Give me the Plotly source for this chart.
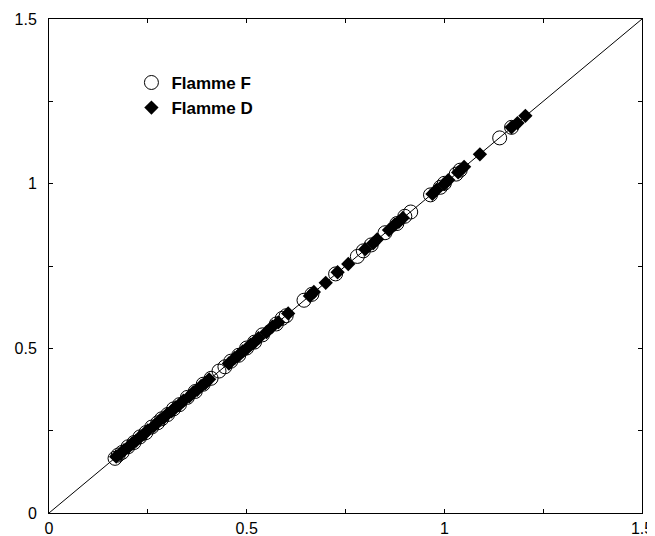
import plotly.graph_objects as go

# Flamme F (open circles)
f_x = [0.167, 0.175, 0.185, 0.200, 0.215, 0.230, 0.245, 0.260, 0.275, 0.285,
       0.300, 0.315, 0.330, 0.350, 0.370, 0.390, 0.410, 0.430, 0.445, 0.460,
       0.480, 0.500, 0.520, 0.540, 0.575, 0.590, 0.600, 0.645, 0.665, 0.725,
       0.780, 0.795, 0.815, 0.850, 0.880, 0.900, 0.915, 0.965, 0.990, 1.000,
       1.030, 1.040, 1.140, 1.170]
f_y = [0.166, 0.176, 0.184, 0.201, 0.214, 0.231, 0.244, 0.261, 0.274, 0.286,
       0.299, 0.316, 0.329, 0.351, 0.369, 0.391, 0.409, 0.431, 0.444, 0.461,
       0.479, 0.501, 0.519, 0.541, 0.574, 0.591, 0.599, 0.646, 0.664, 0.726,
       0.779, 0.796, 0.814, 0.851, 0.879, 0.901, 0.914, 0.966, 0.989, 1.001,
       1.029, 1.041, 1.139, 1.171]

# Flamme D (filled diamonds)
d_x = [0.170, 0.180, 0.190, 0.200, 0.210, 0.220, 0.230, 0.240, 0.250, 0.265,
       0.280, 0.290, 0.300, 0.310, 0.320, 0.330, 0.340, 0.355, 0.365, 0.375,
       0.385, 0.395, 0.405, 0.455, 0.470, 0.480, 0.490, 0.500, 0.510, 0.520,
       0.530, 0.550, 0.565, 0.580, 0.605, 0.660, 0.670, 0.700, 0.730, 0.757,
       0.800, 0.820, 0.830, 0.860, 0.875, 0.885, 0.895, 0.970, 0.980, 1.000,
       1.010, 1.035, 1.050, 1.090, 1.170, 1.185, 1.205]
d_y = [0.171, 0.179, 0.191, 0.199, 0.211, 0.219, 0.231, 0.239, 0.251, 0.264,
       0.281, 0.289, 0.301, 0.309, 0.321, 0.329, 0.341, 0.354, 0.366, 0.374,
       0.386, 0.394, 0.406, 0.454, 0.471, 0.479, 0.491, 0.499, 0.511, 0.519,
       0.531, 0.549, 0.566, 0.579, 0.606, 0.659, 0.671, 0.699, 0.731, 0.756,
       0.801, 0.819, 0.831, 0.859, 0.876, 0.884, 0.896, 0.969, 0.981, 0.999,
       1.011, 1.034, 1.051, 1.089, 1.171, 1.184, 1.206]

diag = [0, 1.5]
tick_vals = [0, 0.5, 1, 1.5]
tick_text = ["0", "0.5", "1", "1.5"]

fig = go.Figure()
fig.add_trace(go.Scatter(x=diag, y=diag, mode="lines",
                         line=dict(color="black", width=1), showlegend=False,
                         hoverinfo="skip"))
fig.add_trace(go.Scatter(x=f_x, y=f_y, mode="markers", name="Flamme F",
                         marker=dict(symbol="circle-open", size=14,
                                     color="black", line=dict(width=1))))
fig.add_trace(go.Scatter(x=d_x, y=d_y, mode="markers", name="Flamme D",
                         marker=dict(symbol="diamond", size=11, color="black",
                                     line=dict(width=0))))

axis_common = dict(range=[0, 1.5], tickvals=tick_vals, ticktext=tick_text,
                   showgrid=False, zeroline=False, showline=True,
                   linecolor="black", linewidth=1, mirror="ticks",
                   ticks="inside", ticklen=4, tickcolor="black",
                   automargin=False,
                   minor=dict(dtick=0.25, tick0=0, ticks="inside", ticklen=4,
                              tickcolor="black"),
                   tickfont=dict(family="Liberation Sans, Arial", size=16,
                                 color="black"))

fig.update_layout(
    width=655, height=536,
    margin=dict(l=41, r=21, t=11, b=31, autoexpand=False),
    paper_bgcolor="white", plot_bgcolor="white",
    xaxis=dict(**axis_common, ticklabelstandoff=1),
    yaxis=dict(**axis_common, ticklabelstandoff=8),
    legend=dict(x=0.139, y=0.907, xanchor="left", yanchor="top",
                bgcolor="rgba(0,0,0,0)", tracegroupgap=0,
                itemwidth=30,
                font=dict(family="Liberation Sans, Arial", size=17,
                          color="black", weight="bold")),
)

fig.write_html("out.html")
